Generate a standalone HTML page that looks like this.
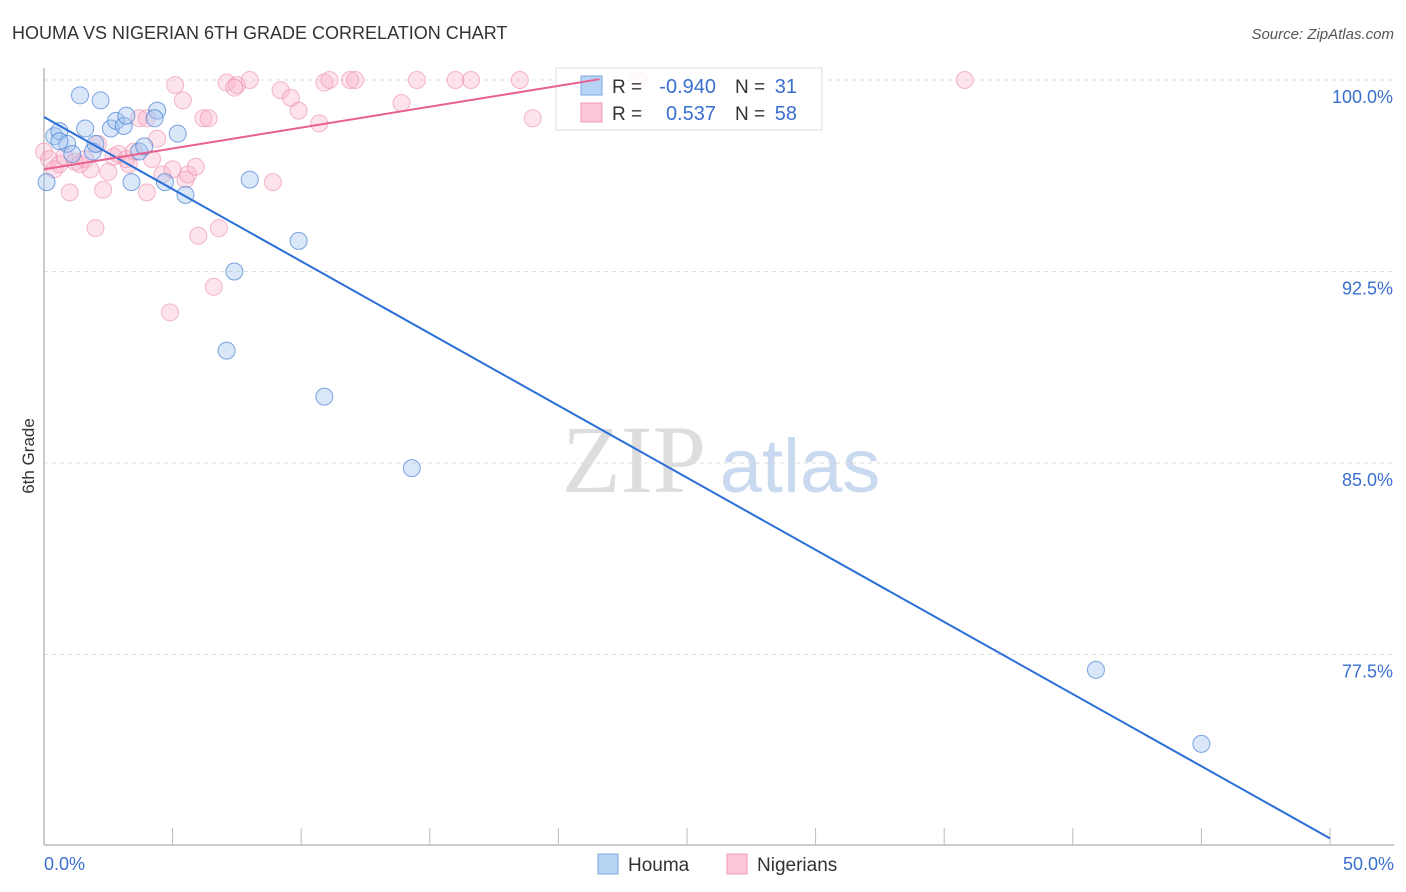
<!DOCTYPE html>
<html><head><meta charset="utf-8">
<style>
body{margin:0;background:#fff;font-family:"Liberation Sans",sans-serif;}
svg{display:block}
</style></head>
<body>
<svg id="chart" width="1406" height="892" xmlns="http://www.w3.org/2000/svg">
<text x="12" y="39" font-size="18" fill="#333">HOUMA VS NIGERIAN 6TH GRADE CORRELATION CHART</text>
<text x="1394" y="39" font-size="15" fill="#555" font-style="italic" text-anchor="end">Source: ZipAtlas.com</text>
<text x="34" y="456" font-size="17" fill="#333" transform="rotate(-90 34 456)" text-anchor="middle">6th Grade</text>
<g>
<text x="634" y="492" font-size="96" fill="#ddd" font-family="Liberation Serif,serif" text-anchor="middle">ZIP</text>
<text x="800" y="492" font-size="76" fill="#c9daf0" text-anchor="middle">atlas</text>
</g>
<g id="grid"></g>
<g id="axes"></g>
<g id="marks"></g>
<g>
<rect x="556" y="68" width="266" height="62" fill="rgba(255,255,255,0.85)" stroke="#ddd"/>
<rect x="581" y="76" width="21" height="19" fill="#b8d4f5" stroke="#7aa7e0"/>
<text x="612" y="93" font-size="19" fill="#333">R = </text>
<text x="716" y="93" font-size="20" fill="#3a6fd0" text-anchor="end">-0.940</text>
<text x="735" y="93" font-size="19" fill="#333">N = </text>
<text x="797" y="93" font-size="20" fill="#3a6fd0" text-anchor="end">31</text>
<rect x="581" y="103" width="21" height="19" fill="#fcc7d6" stroke="#f09ab4"/>
<text x="612" y="120" font-size="19" fill="#333">R = </text>
<text x="716" y="120" font-size="20" fill="#3a6fd0" text-anchor="end">0.537</text>
<text x="735" y="120" font-size="19" fill="#333">N = </text>
<text x="797" y="120" font-size="20" fill="#3a6fd0" text-anchor="end">58</text>
</g>
<g id="trends"></g>
<g>
<rect x="598" y="854" width="20" height="20" fill="#b8d4f5" stroke="#7aa7e0"/>
<text x="628" y="871" font-size="19" fill="#333">Houma</text>
<rect x="727" y="854" width="20" height="20" fill="#fcc7d6" stroke="#f09ab4"/>
<text x="757" y="871" font-size="19" fill="#333">Nigerians</text>
</g>
</svg>
<script>
const xTicks=[0,5,10,15,20,25,30,35,40,45,50];
const yTicks=[100,92.5,85,77.5];
const yTickLabels=["100.0%","92.5%","85.0%","77.5%"];
const houmaX=[0.1,0.4,0.6,0.9,1.1,1.4,1.6,1.9,2.0,2.2,2.6,2.8,3.1,3.2,3.4,3.7,3.9,4.4,4.3,4.7,5.2,5.5,7.1,7.4,8.0,9.9,10.9,14.3,40.9,45.0,0.6];
const houmaY=[96.0,97.8,98.0,97.5,97.1,99.4,98.1,97.2,97.5,99.2,98.1,98.4,98.2,98.6,96.0,97.2,97.4,98.8,98.5,96.0,97.9,95.5,89.4,92.5,96.1,93.7,87.6,84.8,76.9,74.0,97.6];
const nigX=[0.0,0.2,0.4,0.6,0.8,1.0,1.2,1.4,1.6,1.8,2.0,2.1,2.3,2.5,2.7,2.9,3.2,3.3,3.5,3.7,4.0,4.0,4.2,4.4,4.6,4.9,5.0,5.1,5.4,5.5,5.6,5.9,6.0,6.2,6.4,6.6,6.8,7.1,7.5,8.0,8.9,9.2,9.6,9.9,10.7,10.9,11.1,11.9,12.1,13.9,14.5,16.0,16.6,18.5,19.0,23.1,35.8,7.4];
const nigY=[97.2,96.9,96.5,96.7,97.0,95.6,96.8,96.7,96.9,96.5,94.2,97.5,95.7,96.4,97.0,97.1,96.9,96.7,97.2,98.5,98.5,95.6,96.9,97.7,96.3,90.9,96.5,99.8,99.2,96.1,96.3,96.6,93.9,98.5,98.5,91.9,94.2,99.9,99.8,100.0,96.0,99.6,99.3,98.8,98.3,99.9,100.0,100.0,100.0,99.1,100.0,100.0,100.0,100.0,98.5,100.0,100.0,99.7];
const houmaTrend=[98.55,-0.565];
const nigTrend=[96.5,0.1635];
const nigTrendEnd=21.6;
const NS='http://www.w3.org/2000/svg';
const X=v=>44+v/50*1286;
const Y=v=>80+(100-v)/7.5*191.5;
function mk(tag,attrs,parent){const e=document.createElementNS(NS,tag);for(const k in attrs)e.setAttribute(k,attrs[k]);document.getElementById(parent).appendChild(e);return e;}
yTicks.forEach((t,i)=>{
 const l=mk('line',{x1:44,x2:1394,y1:Y(t),y2:Y(t),stroke:'#ddd','stroke-dasharray':'4,4'},'grid');
 
 
 const tx=mk('text',{x:1393,y:Y(t)+23,'font-size':18,fill:'#3a6fd0','text-anchor':'end'},'axes');
 tx.textContent=yTickLabels[i];
 
 
});
const xa=mk('line',{x1:44,x2:1394,y1:845,y2:845,stroke:'#bbb','stroke-width':1.5},'axes');


const ya=mk('line',{x1:44,x2:44,y1:68,y2:845,stroke:'#bbb','stroke-width':1.5},'axes');


xTicks.forEach(t=>{
 const l=mk('line',{x1:X(t),x2:X(t),y1:828,y2:845,stroke:'#bbb'},'axes');
 
 
});
[[0,'0.0%','start',44],[50,'50.0%','end',1394]].forEach(a=>{
 const tx=mk('text',{x:a[3],y:870,'font-size':18,fill:'#3a6fd0','text-anchor':a[2]},'axes');
 tx.textContent=a[1];
 
 
});
nigX.forEach((v,i)=>{
 const c=mk('circle',{cx:X(v),cy:Y(nigY[i]),r:8.5,fill:'rgba(248,175,200,0.35)',stroke:'rgba(235,140,170,0.6)'},'marks');
 
 
});
houmaX.forEach((v,i)=>{
 const c=mk('circle',{cx:X(v),cy:Y(houmaY[i]),r:8.5,fill:'rgba(160,195,240,0.4)',stroke:'rgba(60,120,210,0.65)'},'marks');
 
 
});
const hl=mk('line',{x1:X(0),y1:Y(houmaTrend[0]),x2:X(50),y2:Y(houmaTrend[0]+houmaTrend[1]*50),stroke:'#2a6fd6','stroke-width':2},'trends');


const pl=mk('line',{x1:X(0),y1:Y(nigTrend[0]),x2:X(nigTrendEnd),y2:Y(nigTrend[0]+nigTrend[1]*nigTrendEnd),stroke:'#e8608e','stroke-width':2},'trends');


</script>
</body></html>
